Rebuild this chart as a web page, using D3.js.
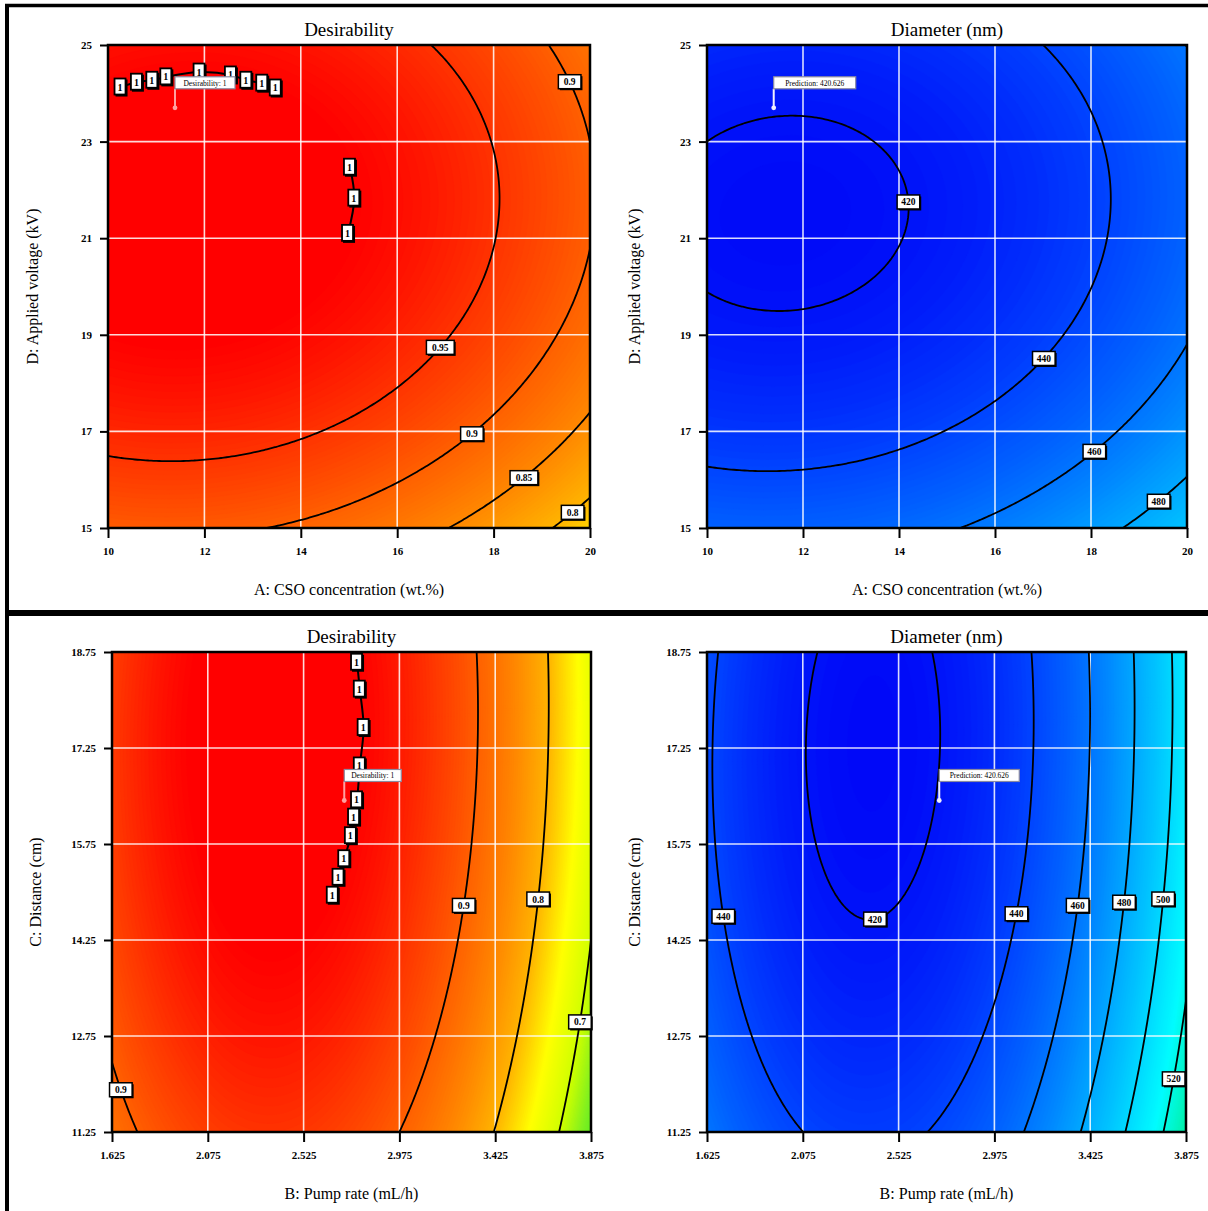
<!DOCTYPE html>
<html>
<head>
<meta charset="utf-8">
<script src="https://cdnjs.cloudflare.com/ajax/libs/d3/7.8.5/d3.min.js"></script>
<style>
  body { margin: 0; background: #fff; }
  text { font-family: "Liberation Serif", "Times New Roman", serif; }
</style>
</head>
<body>
<svg id="chart" width="1208" height="1211"></svg>
<script>
// Axis ticks
const ticksA = [10, 12, 14, 16, 18, 20];
const ticksD = [15, 17, 19, 21, 23, 25];
const ticksB = [1.625, 2.075, 2.525, 2.975, 3.425, 3.875];
const ticksC = [11.25, 12.75, 14.25, 15.75, 17.25, 18.75];

// Contour traces: [x, y, level]
const desirabilityAD = [
  [10, 16.5, 0.95], [11.3, 16.4, 0.95], [13.99, 16.8, 0.95], [15.99, 17.88, 0.95], [17.11, 18.96, 0.95],
  [17.63, 19.7, 0.95], [18.13, 21.78, 0.95], [17.9, 23.0, 0.95], [16.67, 25, 0.95],
  [13.36, 15, 0.9], [15.99, 15.87, 0.9], [17.55, 17.05, 0.9], [19.67, 19.7, 0.9], [20, 20.75, 0.9],
  [20, 22.97, 0.9], [19.15, 25, 0.9],
  [17.07, 15, 0.85], [18.63, 16.2, 0.85], [20, 17.3, 0.85],
  [19.23, 15, 0.8], [20, 15.6, 0.8],
  [10.26, 24.13, 1], [10.6, 24.23, 1], [10.92, 24.27, 1], [11.21, 24.34, 1], [11.9, 24.44, 1],
  [12.55, 24.38, 1], [12.87, 24.27, 1], [13.2, 24.21, 1], [13.48, 24.11, 1],
  [15.02, 22.47, 1], [15.11, 21.83, 1], [14.98, 21.1, 1]
];
const diameterAD = [
  [12.0, 23.55, 420], [13.54, 22.97, 420], [14.22, 21.75, 420], [14.1, 21.0, 420], [11.9, 19.5, 420],
  [10.24, 19.73, 420], [10.16, 23.04, 420],
  [17.0, 25, 440], [18.2, 22.97, 440], [18.43, 21.6, 440], [17.97, 19.73, 440], [16.94, 18.51, 440],
  [16.0, 17.56, 440], [13.98, 16.56, 440], [11.3, 16.17, 440], [10.0, 16.3, 440],
  [20, 18.7, 460], [19.0, 17.56, 460], [18.0, 16.63, 460], [16.0, 15.43, 460], [15.47, 15, 460],
  [20, 16.0, 480], [19.41, 15.65, 480], [18.8, 15, 480]
];
const desirabilityBC = [
  [1.625, 12.39, 0.9], [1.677, 11.91, 0.9], [1.728, 11.25, 0.9],
  [3.342, 18.75, 0.9], [3.337, 17.23, 0.9], [3.324, 15.75, 0.9], [3.26, 14.24, 0.9], [3.124, 12.76, 0.9], [2.988, 11.25, 0.9],
  [3.668, 18.75, 0.8], [3.649, 15.75, 0.8], [3.605, 14.24, 0.8], [3.505, 12.76, 0.8], [3.424, 11.25, 0.8],
  [3.875, 14.16, 0.7], [3.822, 12.76, 0.7], [3.722, 11.25, 0.7],
  [2.776, 18.59, 1], [2.789, 18.17, 1], [2.807, 17.57, 1], [2.789, 16.97, 1], [2.776, 16.44, 1],
  [2.762, 16.17, 1], [2.747, 15.88, 1], [2.716, 15.52, 1], [2.689, 15.23, 1], [2.662, 14.95, 1]
];
const diameterBC = [
  [2.142, 18.75, 420], [2.677, 18.75, 420], [2.096, 17.25, 420], [2.698, 17.25, 420], [2.142, 15.75, 420],
  [2.649, 15.75, 420], [2.296, 14.9, 420], [2.532, 14.9, 420], [2.41, 14.68, 420],
  [1.68, 18.75, 440], [1.652, 17.25, 440], [1.639, 15.75, 440], [1.733, 14.24, 440], [1.834, 12.76, 440], [2.077, 11.25, 440],
  [3.149, 18.75, 440], [3.157, 17.25, 440], [3.13, 15.75, 440], [3.058, 14.24, 440], [2.922, 12.76, 440], [2.659, 11.25, 440],
  [3.42, 18.75, 460], [3.411, 15.75, 460], [3.348, 14.24, 460], [3.248, 12.76, 460], [3.112, 11.25, 460],
  [3.638, 18.75, 480], [3.566, 14.24, 480], [3.493, 12.76, 480], [3.385, 11.25, 480],
  [3.801, 18.75, 500], [3.747, 14.24, 500], [3.674, 12.76, 500], [3.593, 11.25, 500],
  [3.875, 13.28, 520], [3.838, 12.76, 520], [3.774, 11.25, 520]
];

// Contour levels drawn as lines
const levelsDesAD = [0.8, 0.85, 0.9, 0.95];
const levelsDiaAD = [420, 440, 460, 480];
const levelsDesBC = [0.7, 0.8, 0.9];
const levelsDiaBC = [420, 440, 460, 480, 500, 520];

// Contour labels: [x, y, level]
const labelsDesAD = [[16.79, 18.74, 0.95], [17.55, 17.05, 0.9], [18.63, 16.2, 0.85], [19.64, 15.48, 0.8], [19.63, 24.24, 0.9]];
const labelsDiaAD = [[14.22, 21.75, 420], [16.94, 18.51, 440], [18.07, 16.69, 460], [19.41, 15.65, 480]];
const labelsDesBC = [[1.677, 11.91, 0.9], [3.278, 14.79, 0.9], [3.612, 14.89, 0.8], [3.813, 12.97, 0.7]];
const labelsDiaBC = [[1.714, 14.62, 440], [2.414, 14.72, 420], [3.072, 14.66, 440], [3.366, 14.79, 460],
  [3.584, 14.84, 480], [3.767, 14.89, 500], [3.816, 12.08, 520]];

// "1" markers on the desirability plateau
const onesADTop = [[10.26, 24.13], [10.6, 24.23], [10.92, 24.27], [11.21, 24.34], [11.9, 24.44],
  [12.55, 24.38], [12.87, 24.27], [13.2, 24.21], [13.48, 24.11]];
const onesADMid = [[15.02, 22.47], [15.11, 21.83], [14.98, 21.1]];
const onesBC = [[2.776, 18.59], [2.789, 18.17], [2.807, 17.57], [2.789, 16.97], [2.776, 16.44],
  [2.762, 16.17], [2.747, 15.88], [2.716, 15.52], [2.689, 15.23], [2.662, 14.95]];

// Flag points
const flagAD = [11.39, 23.7];
const flagBC = [2.716, 16.43];

const desColor = d3.scaleLinear()
  .domain([0.62, 0.66, 0.7, 0.75, 0.8, 0.85, 0.9, 0.95, 1])
  .range(["#40e820", "#80f020", "#d0ff00", "#ffff00", "#ffb400", "#ff8800", "#ff6000", "#ff3400", "#ff0000"])
  .clamp(true);
const diaColor = d3.scaleLinear()
  .domain([416, 440, 460, 480, 500, 515, 535])
  .range(["#0008f8", "#0044ff", "#0074ff", "#00a8ff", "#00d8ff", "#00fcff", "#00f09c"])
  .clamp(true);

// least squares quadratic surface through the traced contour points
function fitQuad(points, xd, yd) {
  const norm = (v, d) => (v - d[0]) / (d[1] - d[0]) * 2 - 1;
  const basis = (s, t) => [1, s, t, s * s, t * t, s * t];
  const N = 6;
  const M = Array.from({length: N}, () => new Array(N + 1).fill(0));
  points.forEach(([px, py, z]) => {
    const b = basis(norm(px, xd), norm(py, yd));
    for (let i = 0; i < N; i++) {
      for (let j = 0; j < N; j++) M[i][j] += b[i] * b[j];
      M[i][N] += b[i] * z;
    }
  });
  for (let c = 0; c < N; c++) {
    let p = c;
    for (let r = c + 1; r < N; r++) if (Math.abs(M[r][c]) > Math.abs(M[p][c])) p = r;
    [M[c], M[p]] = [M[p], M[c]];
    for (let r = 0; r < N; r++) {
      if (r === c) continue;
      const f = M[r][c] / M[c][c];
      for (let k = c; k <= N; k++) M[r][k] -= f * M[c][k];
    }
  }
  const coef = M.map((row, i) => row[N] / row[i]);
  return (a, b) => d3.sum(basis(norm(a, xd), norm(b, yd)), (v, i) => v * coef[i]);
}

const svg = d3.select("#chart");
svg.append("rect").attr("width", 1208).attr("height", 1211).attr("fill", "#fff");

const panels = [
  { id: "p1", left: 108, right: 590, top: 45, bottom: 528, xDomain: [10, 20], yDomain: [15, 25],
    xTicks: ticksA, yTicks: ticksD, title: "Desirability", xTitle: "A: CSO concentration (wt.%)",
    yTitle: "D: Applied voltage (kV)", yTitleX: 38, trace: desirabilityAD, levels: levelsDesAD,
    labels: labelsDesAD, ones: [onesADTop, onesADMid], flag: flagAD, flagText: "Desirability: 1", flagW: 60,
    cap: 1, step: 0.003, color: desColor, fmt: d3.format(".2~f"), flagColor: "#ffa0a0" },
  { id: "p2", left: 707, right: 1187, top: 45, bottom: 528, xDomain: [10, 20], yDomain: [15, 25],
    xTicks: ticksA, yTicks: ticksD, title: "Diameter (nm)", xTitle: "A: CSO concentration (wt.%)",
    yTitle: "D: Applied voltage (kV)", yTitleX: 640, trace: diameterAD, levels: levelsDiaAD,
    labels: labelsDiaAD, ones: [], flag: flagAD, flagText: "Prediction: 420.626", flagW: 82,
    cap: null, step: 1.2, color: diaColor, fmt: d3.format("d"), flagColor: "#f0f0ff" },
  { id: "p3", left: 112, right: 591, top: 652, bottom: 1132, xDomain: [1.625, 3.875], yDomain: [11.25, 18.75],
    xTicks: ticksB, yTicks: ticksC, title: "Desirability", xTitle: "B: Pump rate (mL/h)",
    yTitle: "C: Distance (cm)", yTitleX: 41, trace: desirabilityBC, levels: levelsDesBC,
    labels: labelsDesBC, ones: [onesBC], flag: flagBC, flagText: "Desirability: 1", flagW: 57,
    cap: 1, step: 0.003, color: desColor, fmt: d3.format(".2~f"), flagColor: "#ffa0a0" },
  { id: "p4", left: 707, right: 1186, top: 652, bottom: 1132, xDomain: [1.625, 3.875], yDomain: [11.25, 18.75],
    xTicks: ticksB, yTicks: ticksC, title: "Diameter (nm)", xTitle: "B: Pump rate (mL/h)",
    yTitle: "C: Distance (cm)", yTitleX: 640, trace: diameterBC, levels: levelsDiaBC,
    labels: labelsDiaBC, ones: [], flag: flagBC, flagText: "Prediction: 420.626", flagW: 80,
    cap: null, step: 1.2, color: diaColor, fmt: d3.format("d"), flagColor: "#f0f0ff" }
];

const defs = svg.append("defs");
const n = 180;

panels.forEach(p => {
  const x = d3.scaleLinear().domain(p.xDomain).range([p.left, p.right]);
  const y = d3.scaleLinear().domain(p.yDomain).range([p.bottom, p.top]);
  const f = fitQuad(p.trace, p.xDomain, p.yDomain);
  const value = (a, b) => p.cap != null ? Math.min(p.cap, f(a, b)) : f(a, b);

  const gx = d3.scaleLinear().domain([0.5, n - 0.5]).range(p.xDomain);
  const gy = d3.scaleLinear().domain([0.5, n - 0.5]).range([p.yDomain[1], p.yDomain[0]]);
  const grid = new Array(n * n);
  for (let j = 0; j < n; j++)
    for (let i = 0; i < n; i++) grid[j * n + i] = value(gx(i + 0.5), gy(j + 0.5));

  const proj = d3.geoTransform({ point(px, py) { this.stream.point(x(gx(px)), y(gy(py))); } });
  const path = d3.geoPath(proj);

  defs.append("clipPath").attr("id", "clip-" + p.id)
    .append("rect").attr("x", p.left).attr("y", p.top)
    .attr("width", p.right - p.left).attr("height", p.bottom - p.top);

  const g = svg.append("g");
  const plot = g.append("g").attr("clip-path", `url(#clip-${p.id})`);

  // colour field
  const [lo, hi] = d3.extent(grid);
  plot.append("rect").attr("x", p.left).attr("y", p.top)
    .attr("width", p.right - p.left).attr("height", p.bottom - p.top).attr("fill", p.color(lo));
  const bands = d3.range(Math.floor(lo / p.step) * p.step, hi, p.step);
  plot.selectAll("path.band")
    .data(d3.contours().size([n, n]).thresholds(bands)(grid))
    .join("path").attr("class", "band")
    .attr("d", path)
    .attr("fill", d => p.color(d.value + p.step / 2))
    .attr("stroke", d => p.color(d.value + p.step / 2)).attr("stroke-width", 0.6);

  // white grid
  plot.selectAll("line.gx").data(p.xTicks.slice(1, -1)).join("line")
    .attr("x1", d => x(d)).attr("x2", d => x(d)).attr("y1", p.top).attr("y2", p.bottom)
    .attr("stroke", "#fff").attr("stroke-opacity", 0.85).attr("stroke-width", 1.6);
  plot.selectAll("line.gy").data(p.yTicks.slice(1, -1)).join("line")
    .attr("x1", p.left).attr("x2", p.right).attr("y1", d => y(d)).attr("y2", d => y(d))
    .attr("stroke", "#fff").attr("stroke-opacity", 0.85).attr("stroke-width", 1.6);

  // contour lines
  plot.selectAll("path.iso")
    .data(d3.contours().size([n, n]).thresholds(p.levels)(grid))
    .join("path").attr("class", "iso")
    .attr("d", path).attr("fill", "none").attr("stroke", "#000").attr("stroke-width", 1.8);

  // plateau line through the "1" markers
  const oneLine = d3.line().x(d => x(d[0])).y(d => y(d[1])).curve(d3.curveCatmullRom);
  p.ones.forEach(seg => {
    plot.append("path").attr("d", oneLine(seg)).attr("fill", "none")
      .attr("stroke", "#000").attr("stroke-width", 2);
  });

  // plot frame
  g.append("rect").attr("x", p.left).attr("y", p.top)
    .attr("width", p.right - p.left).attr("height", p.bottom - p.top)
    .attr("fill", "none").attr("stroke", "#000").attr("stroke-width", 2.5);

  // contour labels snapped onto the fitted contour
  function snap(lx, ly, level) {
    const px = x(lx), py = y(ly);
    let best = null;
    [[1, 0], [0, 1]].forEach(([dx, dy]) => {
      let prev = null;
      for (let s = -30; s <= 30; s += 0.5) {
        const v = f(x.invert(px + dx * s), y.invert(py + dy * s)) - level;
        if (prev && prev.v * v <= 0) {
          const t = prev.s + (s - prev.s) * prev.v / (prev.v - v);
          if (!best || Math.abs(t) < Math.abs(best.t)) best = {t, dx, dy};
        }
        prev = {s, v};
      }
    });
    return best ? [px + best.dx * best.t, py + best.dy * best.t] : [px, py];
  }
  p.labels.forEach(([lx, ly, level]) => {
    const [cx, cy] = snap(lx, ly, level);
    const txt = p.fmt(level);
    const w = txt.length * 5.2 + 7, h = 14;
    const lg = g.append("g").attr("transform", `translate(${cx},${cy})`);
    lg.append("rect").attr("x", -w / 2 + 1.5).attr("y", -h / 2 + 1.5).attr("width", w).attr("height", h).attr("fill", "#000");
    lg.append("rect").attr("x", -w / 2).attr("y", -h / 2).attr("width", w).attr("height", h)
      .attr("fill", "#fff").attr("stroke", "#000").attr("stroke-width", 1.5);
    lg.append("text").attr("text-anchor", "middle").attr("y", 3.5)
      .attr("font-size", 9.5).attr("font-weight", "bold").text(txt);
  });

  // "1" boxes
  p.ones.flat().forEach(([ox, oy]) => {
    const og = g.append("g").attr("transform", `translate(${x(ox)},${y(oy)})`);
    og.append("rect").attr("x", -5).attr("y", -7.5).attr("width", 12).attr("height", 17).attr("fill", "#000");
    og.append("rect").attr("x", -6).attr("y", -8.5).attr("width", 11).attr("height", 16)
      .attr("fill", "#fff").attr("stroke", "#000").attr("stroke-width", 1.8);
    og.append("text").attr("x", -0.5).attr("y", 3.5).attr("text-anchor", "middle")
      .attr("font-size", 10).attr("font-weight", "bold").text("1");
  });

  // flag
  const fx = x(p.flag[0]), fy = y(p.flag[1]);
  g.append("line").attr("x1", fx).attr("x2", fx).attr("y1", fy).attr("y2", fy - 19)
    .attr("stroke", p.flagColor).attr("stroke-width", 2);
  g.append("circle").attr("cx", fx).attr("cy", fy).attr("r", 2.4).attr("fill", p.flagColor);
  g.append("rect").attr("x", fx).attr("y", fy - 31).attr("width", p.flagW).attr("height", 12)
    .attr("fill", "#fff").attr("stroke", "#8a8aa0").attr("stroke-width", 1.2);
  g.append("text").attr("x", fx + p.flagW / 2).attr("y", fy - 22).attr("text-anchor", "middle")
    .attr("font-size", 7.5).text(p.flagText);

  // axes
  const xa = g.append("g").attr("transform", `translate(0,${p.bottom})`)
    .call(d3.axisBottom(x).tickValues(p.xTicks).tickFormat(d => d).tickSize(10).tickPadding(9));
  const ya = g.append("g").attr("transform", `translate(${p.left},0)`)
    .call(d3.axisLeft(y).tickValues(p.yTicks).tickFormat(d => d).tickSize(8).tickPadding(8));
  [xa, ya].forEach(a => {
    a.select(".domain").remove();
    a.attr("font-size", 11).attr("font-weight", "bold");
    a.selectAll("line").attr("stroke-width", 2);
  });

  // titles
  const mid = (p.left + p.right) / 2;
  g.append("text").attr("x", mid).attr("y", p.top - 9).attr("text-anchor", "middle")
    .attr("font-size", 19).text(p.title);
  g.append("text").attr("x", mid).attr("y", p.bottom + 67).attr("text-anchor", "middle")
    .attr("font-size", 16).text(p.xTitle);
  g.append("text").attr("transform", `translate(${p.yTitleX},${(p.top + p.bottom) / 2}) rotate(-90)`)
    .attr("text-anchor", "middle").attr("font-size", 16).text(p.yTitle);
});

// outer frame and separator
svg.append("path").attr("d", "M5,5.5H1208").attr("stroke", "#000").attr("stroke-width", 3.5);
svg.append("path").attr("d", "M7,4V1211").attr("stroke", "#000").attr("stroke-width", 4);
svg.append("path").attr("d", "M5,613H1208").attr("stroke", "#000").attr("stroke-width", 6);
</script>
</body>
</html>
